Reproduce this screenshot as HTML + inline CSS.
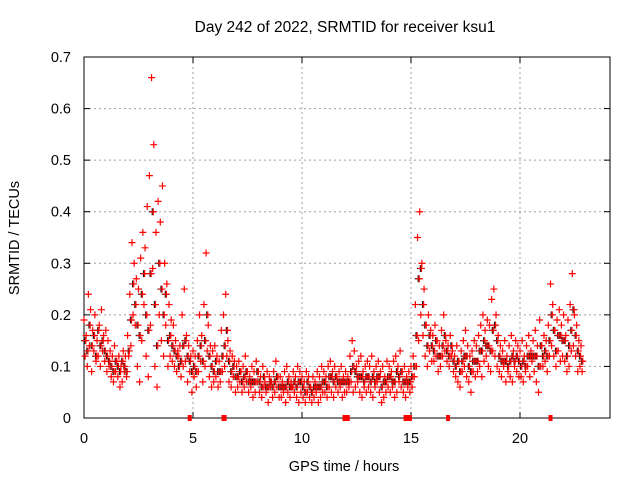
<!DOCTYPE html>
<html><head><meta charset="utf-8">
<style>
body{margin:0;background:#fff;}
svg{display:block;font-family:"Liberation Sans",sans-serif;}
</style></head>
<body>
<svg id="chart" width="640" height="480" xmlns="http://www.w3.org/2000/svg">
<rect width="640" height="480" fill="#fff"/>
<text x="345" y="32" font-size="15.5" text-anchor="middle" fill="#000">Day 242 of 2022, SRMTID for receiver ksu1</text>
<text x="344" y="471" font-size="14.5" text-anchor="middle" fill="#000">GPS time / hours</text>
<text x="19" y="238" font-size="14.5" text-anchor="middle" fill="#000" transform="rotate(-90 19 238)">SRMTID / TECUs</text>
<g id="grid"></g>
<g id="axes"></g>
<g id="marks"></g>
</svg>
<script>
const xTicks = [0, 5, 10, 15, 20];
const yTicks = [0, 0.1, 0.2, 0.3, 0.4, 0.5, 0.6, 0.7];
const yTickLabels = ["0", "0.1", "0.2", "0.3", "0.4", "0.5", "0.6", "0.7"];
const times = [
0.0,0.1,0.2,0.3,0.4,0.5,0.6,0.7,0.8,0.9,
1.0,1.1,1.2,1.3,1.4,1.5,1.6,1.7,1.8,1.9,
2.0,2.1,2.2,2.3,2.4,2.5,2.6,2.7,2.8,2.9,
3.0,3.1,3.2,3.3,3.4,3.5,3.6,3.7,3.8,3.9,
4.0,4.1,4.2,4.3,4.4,4.5,4.6,4.7,4.8,4.9,
5.0,5.1,5.2,5.3,5.4,5.5,5.6,5.7,5.8,5.9,
6.0,6.1,6.2,6.3,6.4,6.5,6.6,6.7,6.8,6.9,
7.0,7.1,7.2,7.3,7.4,7.5,7.6,7.7,7.8,7.9,
8.0,8.1,8.2,8.3,8.4,8.5,8.6,8.7,8.8,8.9,
9.0,9.1,9.2,9.3,9.4,9.5,9.6,9.7,9.8,9.9,
10.0,10.1,10.2,10.3,10.4,10.5,10.6,10.7,10.8,10.9,
11.0,11.1,11.2,11.3,11.4,11.5,11.6,11.7,11.8,11.9,
12.0,12.1,12.2,12.3,12.4,12.5,12.6,12.7,12.8,12.9,
13.0,13.1,13.2,13.3,13.4,13.5,13.6,13.7,13.8,13.9,
14.0,14.1,14.2,14.3,14.4,14.5,14.6,14.7,14.8,14.9,
15.0,15.1,15.2,15.3,15.4,15.5,15.6,15.7,15.8,15.9,
16.0,16.1,16.2,16.3,16.4,16.5,16.6,16.7,16.8,16.9,
17.0,17.1,17.2,17.3,17.4,17.5,17.6,17.7,17.8,17.9,
18.0,18.1,18.2,18.3,18.4,18.5,18.6,18.7,18.8,18.9,
19.0,19.1,19.2,19.3,19.4,19.5,19.6,19.7,19.8,19.9,
20.0,20.1,20.2,20.3,20.4,20.5,20.6,20.7,20.8,20.9,
21.0,21.1,21.2,21.3,21.4,21.5,21.6,21.7,21.8,21.9,
22.0,22.1,22.2,22.3,22.4,22.5,22.6,22.7,22.8];
const valuesA = [
.19,.16,.24,.21,.17,.20,.15,.18,.21,.16,
.17,.15,.13,.12,.14,.11,.12,.10,.13,.12,
.16,.24,.34,.30,.27,.25,.31,.36,.33,.41,
.47,.66,.53,.36,.42,.38,.45,.30,.26,.22,
.19,.18,.15,.13,.14,.20,.25,.16,.14,.12,
.13,.12,.15,.20,.16,.22,.32,.18,.14,.13,
.14,.12,.11,.17,.20,.24,.15,.13,.12,.11,
.10,.11,.09,.10,.12,.09,.08,.10,.09,.11,
.09,.08,.10,.07,.09,.08,.07,.09,.11,.08,
.08,.07,.09,.10,.08,.07,.09,.08,.10,.09,
.08,.07,.09,.08,.06,.08,.07,.09,.08,.10,
.09,.08,.10,.11,.09,.10,.08,.09,.10,.08,
.09,.08,.12,.15,.13,.10,.11,.12,.09,.10,
.11,.10,.12,.09,.10,.11,.09,.10,.08,.11,
.10,.09,.11,.12,.10,.13,.09,.10,.08,.09,
.10,.12,.22,.35,.40,.30,.25,.18,.20,.17,
.16,.18,.15,.14,.17,.20,.15,.14,.16,.13,
.12,.14,.11,.13,.15,.17,.14,.12,.13,.15,
.14,.16,.18,.20,.17,.19,.18,.23,.25,.20,
.16,.14,.13,.15,.12,.14,.16,.13,.15,.14,
.13,.15,.12,.14,.16,.13,.15,.17,.14,.19,
.14,.16,.15,.18,.26,.22,.17,.19,.21,.18,
.20,.16,.19,.22,.28,.20,.18,.15,.14];
const valuesB = [
.12,.10,.14,.09,.13,.11,.12,.10,.13,.11,
.09,.10,.08,.07,.09,.08,.06,.07,.09,.08,
.12,.14,.20,.18,.10,.07,.15,.22,.12,.08,
.18,.29,.10,.06,.20,.15,.12,.18,.10,.12,
.11,.10,.09,.12,.08,.10,.11,.07,.09,.05,
.08,.06,.09,.11,.07,.10,.13,.08,.06,.07,
.08,.06,.07,.09,.10,.12,.07,.06,.08,.05,
.06,.07,.05,.06,.07,.05,.06,.04,.05,.07,
.05,.04,.06,.05,.03,.06,.04,.05,.06,.04,
.04,.05,.03,.05,.04,.06,.05,.04,.03,.05,
.04,.03,.05,.04,.03,.04,.05,.03,.04,.05,
.05,.04,.06,.05,.04,.06,.05,.06,.04,.05,
.05,.06,.07,.05,.06,.07,.05,.04,.06,.05,
.06,.05,.04,.06,.07,.05,.03,.04,.05,.06,
.05,.06,.04,.05,.07,.06,.05,.04,.06,.05,
.06,.08,.10,.15,.20,.16,.12,.10,.13,.11,
.11,.12,.09,.10,.12,.13,.11,.10,.12,.09,
.08,.07,.06,.09,.10,.08,.07,.05,.09,.08,
.09,.10,.08,.11,.12,.10,.09,.13,.12,.10,
.09,.08,.10,.07,.09,.08,.07,.10,.09,.08,
.08,.07,.09,.10,.08,.11,.09,.07,.05,.10,
.10,.11,.09,.12,.14,.12,.10,.13,.11,.12,
.11,.09,.10,.13,.14,.12,.09,.10,.09];
const valuesC = [
.15,.13,.18,.14,.16,.12,.17,.14,.15,.13,
.12,.11,.10,.09,.11,.10,.09,.11,.10,.09,
.13,.19,.26,.22,.18,.16,.24,.28,.20,.17,
.28,.40,.22,.14,.30,.25,.20,.24,.15,.16,
.14,.13,.12,.10,.11,.14,.15,.12,.11,.09,
.10,.09,.12,.14,.11,.15,.20,.12,.10,.09,
.11,.09,.09,.12,.14,.17,.11,.09,.10,.08,
.08,.09,.07,.08,.09,.07,.07,.07,.07,.09,
.07,.06,.08,.06,.06,.07,.06,.07,.08,.06,
.06,.06,.06,.07,.06,.06,.07,.06,.07,.07,
.06,.05,.07,.06,.05,.06,.06,.06,.06,.07,
.07,.06,.08,.08,.07,.08,.07,.07,.07,.07,
.07,.07,.09,.10,.09,.08,.08,.08,.07,.08,
.08,.07,.08,.07,.08,.08,.06,.07,.07,.08,
.08,.07,.07,.09,.08,.09,.07,.07,.07,.07,
.08,.10,.16,.27,.29,.22,.18,.14,.16,.14,
.13,.15,.12,.12,.14,.16,.13,.12,.14,.11,
.10,.11,.09,.11,.12,.12,.10,.09,.11,.11,
.11,.13,.13,.15,.14,.14,.13,.17,.18,.15,
.12,.11,.11,.11,.10,.11,.12,.11,.12,.11,
.10,.11,.10,.12,.12,.12,.12,.12,.10,.14,
.12,.13,.12,.15,.20,.17,.13,.16,.16,.15,
.15,.12,.14,.17,.21,.16,.13,.12,.11];
const zeroTimes = [4.85, 6.4, 6.45, 11.95, 12.1, 14.75, 14.85, 14.95, 16.7, 21.4];
const zeroValues = [0, 0, 0, 0, 0, 0, 0, 0, 0, 0];

const NS = "http://www.w3.org/2000/svg";
const L = 84, R = 610, T = 57, B = 418;
const xMax = (R - L) / 21.8;
const yMax = 0.7;
function xs(v){ return L + v / xMax * (R - L); }
function ys(v){ return B - v / yMax * (B - T); }
function mk(tag, attrs, parent){ const e = document.createElementNS(NS, tag); for (const k in attrs) e.setAttribute(k, attrs[k]); parent.appendChild(e); return e; }

const grid = document.getElementById('grid');
const axes = document.getElementById('axes');
const marks = document.getElementById('marks');

xTicks.forEach(t => {
  const x = xs(t);
  if (t > 0) {
    const g = mk('line', {x1:x, x2:x, y1:T, y2:B, stroke:'#a0a0a0', 'stroke-width':1, 'stroke-dasharray':'2,3'}, grid);
    
    
  }
  const tk = mk('line', {x1:x, x2:x, y1:B, y2:B-6, stroke:'#000'}, axes);
  
  
  const tk2 = mk('line', {x1:x, x2:x, y1:T, y2:T+6, stroke:'#000'}, axes);
  
  
  const lb = mk('text', {x:x, y:443, 'font-size':14.5, 'text-anchor':'middle', fill:'#000'}, axes);
  lb.textContent = String(t);
  
  
});
yTicks.forEach((t, i) => {
  const y = ys(t);
  if (t > 0 && t < yMax) {
    const g = mk('line', {x1:L, x2:R, y1:y, y2:y, stroke:'#a0a0a0', 'stroke-width':1, 'stroke-dasharray':'2,3'}, grid);
    
    
  }
  const tk = mk('line', {x1:L, x2:L+6, y1:y, y2:y, stroke:'#000'}, axes);
  
  
  const tk2 = mk('line', {x1:R, x2:R-6, y1:y, y2:y, stroke:'#000'}, axes);
  
  
  const lb = mk('text', {x:71, y:y+5, 'font-size':14.5, 'text-anchor':'end', fill:'#000'}, axes);
  lb.textContent = yTickLabels[i];
  
  
});
const frame = mk('rect', {x:L, y:T, width:R-L, height:B-T, fill:'none', stroke:'#000', 'stroke-width':1}, axes);



function plus(t, v, color){
  const x = xs(t), y = ys(v);
  const p = mk('path', {d:`M${x-3.5} ${y}H${x+3.5}M${x} ${y-3.5}V${y+3.5}`, stroke:color, 'stroke-width':1.2, fill:'none'}, marks);
  
  
}
times.forEach((t, i) => plus(t + 0.03, valuesC[i], '#202020'));
times.forEach((t, i) => plus(t, valuesA[i], '#ff0000'));
times.forEach((t, i) => plus(t + 0.05, valuesB[i], '#ff0000'));
times.forEach((t, i) => plus(t + 0.08, valuesC[i], '#ff0000'));
zeroTimes.forEach((t, i) => {
  const r = mk('rect', {x:xs(t)-2, y:B-3, width:4, height:6, fill:'#ff0000'}, marks);
  
  
  void zeroValues[i];
});
</script>
</body></html>
